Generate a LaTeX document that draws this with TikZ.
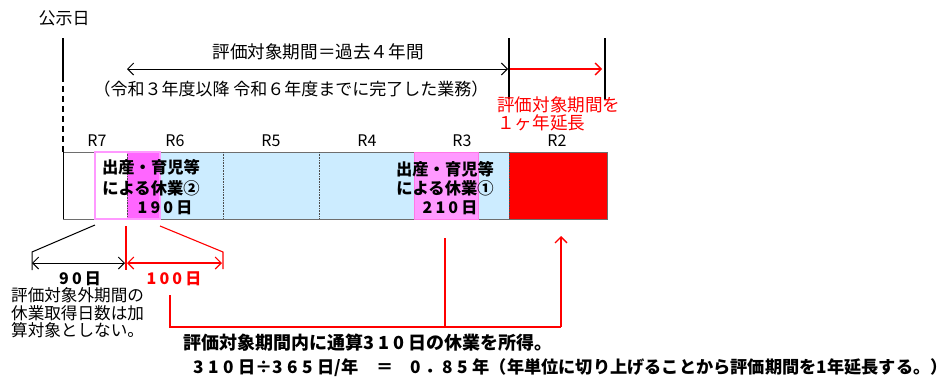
\documentclass[tikz,border=0pt]{standalone}
\usepackage{fontspec}
\setmainfont{Noto Sans CJK JP}
\usetikzlibrary{arrows.meta}
\definecolor{lblue}{RGB}{204,236,255}
\definecolor{mag}{RGB}{255,102,255}
\definecolor{lpink}{RGB}{255,153,255}
\definecolor{pinkedge}{RGB}{255,120,230}
\definecolor{myred}{RGB}{255,0,0}
\definecolor{barline}{RGB}{110,110,110}
\newcommand{\dks}{\kern3.2pt}
\newcommand{\dkb}{\kern4pt}
\newcommand{\dkc}{\kern4.5pt}
\tikzset{
  lbl/.style={inner sep=0pt, font=\fontsize{17}{19}\selectfont},
  toplbl/.style={inner sep=0pt, font=\fontsize{17.6}{19}\selectfont},
  redlbl/.style={inner sep=0pt, text=myred, anchor=west, text height=0.85em, text depth=0.1em, font=\fontsize{17.6}{19}\selectfont},
  yearlbl/.style={inner sep=0pt, text height=11pt, text depth=0pt, font=\fontsize{16}{18}\selectfont},
  barlbl/.style={inner sep=0pt, font=\fontsize{16.3}{18}\selectfont\bfseries},
  numlbl/.style={inner sep=0pt, font=\fontsize{16}{18}\selectfont\bfseries},
  leftlbl/.style={inner sep=0pt, anchor=west, font=\fontsize{16.6}{18}\selectfont},
  botlbl/.style={inner sep=0pt, anchor=west, font=\fontsize{18}{20}\selectfont\bfseries},
  botlblb/.style={inner sep=0pt, anchor=west, font=\fontsize{17.2}{20}\selectfont\bfseries},
  blk/.style={draw=black, line width=1pt},
  redln/.style={draw=myred, line width=1.3pt},
  barb/.style={arrows={Straight Barb[length=6pt,width=12pt]-Straight Barb[length=6pt,width=12pt]}},
  barbend/.style={-{Straight Barb[length=6pt,width=12pt]}},
  divider/.style={draw=black!70, line width=0.6pt, densely dotted},
}
\begin{document}
\begin{tikzpicture}[x=1pt,y=-1pt]
\useasboundingbox (0,0) rectangle (950,383);

% ---- top header ----
\node[lbl] (kouji) at (64,18) {公示日};
\coordinate (dA) at (63,38);
\coordinate (dB) at (63,76);
\coordinate (dC) at (63,152);
\draw[blk, line width=1.2pt] (dA) -- (dB);
\draw[blk, line width=1.2pt, dash pattern=on 6pt off 4pt] (dB) -- (dC);

\node[toplbl] (period) at (318,52) {評価対象期間＝過去４年間};
\node[inner sep=0pt, font=\fontsize{17}{19}\selectfont] (scope) at (291,89) {（令和３年度以降 令和６年度までに完了した業務）};

\coordinate (pL) at (127,69);
\coordinate (pR) at (508,69);
\draw[blk, barb] (pL) -- (pR);

\coordinate (v1t) at (509,38);
\coordinate (v1b) at (509,99);
\coordinate (v2t) at (605,38);
\coordinate (v2b) at (605,100);
\draw[blk, line width=1.3pt] (v1t) -- (v1b);
\draw[blk, line width=1.3pt] (v2t) -- (v2b);

\coordinate (eL) at (510,69);
\coordinate (eR) at (602,69);
\draw[redln, barbend] (eL) -- (eR);
\node[redlbl] (ext1) at (497,108) {評価対象期間を};
\node[redlbl] (ext2) at (497,126) {１ヶ年延長};

% ---- year labels ----
\node[yearlbl] (r7) at (97,141) {R7};
\node[yearlbl] (r6) at (175,141) {R6};
\node[yearlbl] (r5) at (271,141) {R5};
\node[yearlbl] (r4) at (367,141) {R4};
\node[yearlbl] (r3) at (462,141) {R3};
\node[yearlbl] (r2) at (557,141) {R2};

% ---- bar ----
\fill[lblue] (160,152) rectangle (509,219);
\fill[mag] (127,152) rectangle (160,219);
\fill[lpink] (414,152) rectangle (478,219);
\fill[myred] (509,152) rectangle (607,219);
\draw[barline, line width=0.9pt] (63,152) rectangle (607,219);
\draw[black, line width=1pt] (63,152) -- (63,219);
\foreach \xx in {127,223,319,414,509} {
  \draw[divider] (\xx,152) -- (\xx,219);
}
\draw[lpink, line width=1.3pt] (95,152) rectangle (160,219);
\draw[pinkedge, line width=0.9pt] (414,152) rectangle (478,219);

\node[barlbl] (b2a) at (151,167) {出産・育児等};
\node[barlbl] (b2b) at (151,188) {による休業②};
\node[numlbl] (b2c) at (165,208) {1\dks 9\dks 0\dks 日};

\node[barlbl] (b1a) at (445,169) {出産・育児等};
\node[barlbl] (b1b) at (445,188) {による休業①};
\node[numlbl] (b1c) at (450,208) {2\dks 1\dks 0\dks 日};

% ---- dimension lines below ----
\coordinate (k1) at (95,225);
\coordinate (k2) at (32,252);
\coordinate (k3) at (32,270);
\draw[blk] (k1) -- (k2) -- (k3);
\coordinate (m1) at (126,226);
\coordinate (m2) at (126,270);
\draw[redln, line width=1.1pt] (m1) -- (m2);
\coordinate (n1) at (160,226);
\coordinate (n2) at (223,252);
\coordinate (n3) at (223,269);
\draw[redln, line width=1.1pt] (n1) -- (n2) -- (n3);

\coordinate (d90L) at (32,263);
\coordinate (d90R) at (125,263);
\draw[blk, barb] (d90L) -- (d90R);
\coordinate (d100L) at (127,263);
\coordinate (d100R) at (222,263);
\draw[redln, line width=1.1pt, barb] (d100L) -- (d100R);

\node[numlbl] (n90) at (80,279) {9\dks 0\dks 日};
\node[numlbl, text=myred] (n100) at (174,279) {1\dks 0\dks 0\dks 日};

\node[leftlbl] (out1) at (11,295) {評価対象外期間の};
\node[leftlbl] (out2) at (11,313) {休業取得日数は加};
\node[leftlbl] (out3) at (11,330) {算対象としない。};

% ---- red bracket ----
\coordinate (q1) at (170,295);
\coordinate (q2) at (170,327);
\coordinate (q3) at (561,327);
\coordinate (q4) at (561,236);
\coordinate (q5) at (445,238);
\coordinate (q6) at (445,327);
\draw[redln] (q1) -- (q2) -- (q3);
\draw[redln, barbend] (q3) -- (q4);
\draw[redln] (q5) -- (q6);

% ---- bottom text ----
\node[botlbl] (sum) at (183,343) {評価対象期間内に通算3\dkb 1\dkb 0\dkb 日の休業を所得。};
\node[botlblb] (calc) at (193,368) {3\dkc 1\dkc 0\dkc 日÷3\dkc 6\dkc 5\dkc 日/年\hspace{18pt}＝\hspace{17pt}0\dkc ．8\dkc 5\dkc 年（年単位に切り上げることから評価期間を1年延長する。）};
\end{tikzpicture}
\end{document}
